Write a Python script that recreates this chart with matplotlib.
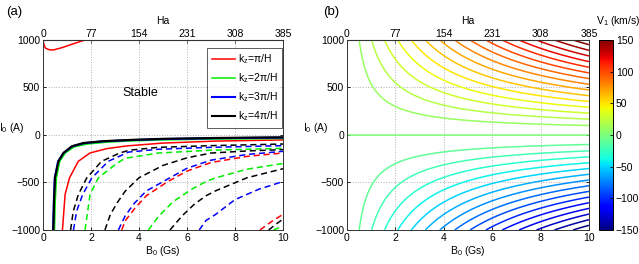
import numpy as np
import matplotlib
matplotlib.use('Agg')
import matplotlib.pyplot as plt

plt.rcParams['font.family'] = ['Liberation Sans', 'DejaVu Sans']
plt.rcParams['font.size'] = 7.5
plt.rcParams['mathtext.fontset'] = 'custom'
plt.rcParams['mathtext.rm'] = 'Liberation Sans'
plt.rcParams['mathtext.it'] = 'Liberation Sans'

# ---- panel (a): marginal stability curves, (B0 [Gs], I0 [A])
red_top_B = [0, 0.03, 0.1, 0.25, 0.43, 0.8, 1.2, 1.75]
red_top_I = [1000, 960, 915, 898, 895, 920, 955, 1000]

black_s_B = [0.43, 0.46, 0.5, 0.64, 0.85, 1.2, 1.68, 2.5, 3.6, 5, 7.2, 10]
black_s_I = [-1000, -700, -450, -277, -189, -119, -84, -65, -52, -40, -31, -24]
blue_s_B = [0.42, 0.45, 0.49, 0.63, 0.86, 1.22, 1.72, 2.5, 3.6, 5, 7.2, 10]
blue_s_I = [-1000, -700, -450, -277, -189, -119, -86, -67, -54, -43, -34, -27]
green_s_B = [0.48, 0.51, 0.56, 0.7, 0.93, 1.3, 1.85, 2.7, 3.6, 5, 7.2, 10]
green_s_I = [-1000, -700, -450, -277, -189, -125, -95, -75, -63, -52, -43, -37]
red_s_B = [0.81, 0.92, 1.1, 1.47, 1.96, 2.65, 3.49, 5, 7.2, 10]
red_s_I = [-1000, -628, -453, -277, -189, -144, -115, -85, -64, -52]

black_d1_B = [1.15, 1.26, 1.47, 1.82, 2.44, 3.2, 3.6, 4.8, 7.0, 10]
black_d1_I = [-1000, -803, -628, -453, -277, -189, -160, -130, -112, -95]
blue_d1_B = [1.27, 1.4, 1.65, 2.03, 2.72, 3.56, 4.8, 7.0, 10]
blue_d1_I = [-1000, -803, -628, -453, -277, -180, -150, -130, -112]
green_d1_B = [1.75, 1.96, 2.3, 3.07, 3.42, 4.8, 7.0, 10]
green_d1_I = [-1000, -628, -453, -300, -245, -190, -160, -140]

black_d2_B = [2.58, 2.8, 3.1, 3.42, 4.0, 5.0, 6.0, 7.0, 8.5, 10]
black_d2_I = [-1000, -840, -710, -593, -450, -320, -240, -190, -168, -154]
blue_d2_B = [3.14, 3.42, 3.8, 4.3, 5.15, 6.0, 7.0, 8.5, 10]
blue_d2_I = [-1000, -853, -720, -590, -470, -350, -265, -205, -172]
red_d2_B = [3.28, 3.42, 3.8, 4.3, 5.2, 6.0, 7.0, 8.5, 10]
red_d2_I = [-1000, -905, -780, -640, -490, -380, -290, -225, -189]
green_d2_B = [4.39, 4.8, 5.43, 6.2, 6.79, 7.17, 8.5, 10]
green_d2_I = [-1000, -860, -700, -570, -490, -453, -360, -300]
black_d3_B = [5.29, 5.8, 6.3, 6.79, 7.17, 8.5, 10]
black_d3_I = [-1000, -850, -730, -640, -590, -450, -355]
blue_d3_B = [6.51, 6.79, 7.17, 8.0, 9.0, 10]
blue_d3_I = [-1000, -900, -840, -680, -570, -490]
red_d3_B = [9.04, 9.5, 10]
red_d3_I = [-1000, -915, -835]
black_d4_B = [9.4, 9.7, 10]
black_d4_I = [-1000, -940, -885]
green_d3_B = [9.6, 9.8, 10]
green_d3_I = [-1000, -980, -960]

legend_labels = [r'k$_z$=π/H', r'k$_z$=2π/H', r'k$_z$=3π/H', r'k$_z$=4π/H']

# ---- panel (b): V1 contours (km/s), levels every 10 km/s
v_levels = np.arange(-150, 151, 10)
# shape constants of the V1(B0, I0) surface, fitted by eye to the contour lines
v_gain, b_sat, i_knee = 0.02154, 0.0273, 69.0
ha_ticks = [0, 77, 154, 231, 308, 385]
ha_per_gauss = 38.5

fig = plt.figure(figsize=(6.39, 2.64), dpi=100)
ax1 = fig.add_axes([0.0673, 0.1288, 0.3756, 0.7197])
ax2 = fig.add_axes([0.543, 0.1288, 0.3787, 0.7197])
cax = fig.add_axes([0.9374, 0.1288, 0.0219, 0.7197])


def style_axes(ax):
    ax.set_xlim(0, 10)
    ax.set_ylim(-1000, 1000)
    ax.set_xticks([0, 2, 4, 6, 8, 10])
    ax.set_yticks([-1000, -500, 0, 500, 1000])
    ax.tick_params(direction='in', length=2.5, width=0.6, right=True, pad=2)
    ax.grid(True, linestyle=':', color='#b0b0b0', linewidth=0.7)
    for s in ax.spines.values():
        s.set_linewidth(0.7)
        s.set_color('#333333')
    ax.set_xlabel(r'B$_0$ (Gs)', labelpad=1)
    ax.set_ylabel(r'I$_0$ (A)', rotation=0, labelpad=0)
    ax.yaxis.set_label_coords(-0.13, 0.5)
    top = ax.secondary_xaxis('top', functions=(lambda b: b * ha_per_gauss, lambda h: h / ha_per_gauss))
    top.set_xticks(ha_ticks)
    top.tick_params(direction='in', length=2.5, width=0.6, pad=1)
    top.set_xlabel('Ha', labelpad=3)


style_axes(ax1)
lw = 1.1
ax1.plot(red_top_B, red_top_I, color='red', lw=lw)
ax1.plot(red_s_B, red_s_I, color='red', lw=lw, label=legend_labels[0])
ax1.plot(green_s_B, green_s_I, color='#00ee00', lw=lw, label=legend_labels[1])
ax1.plot(blue_s_B, blue_s_I, color='blue', lw=lw + 0.4, label=legend_labels[2])
ax1.plot(black_s_B, black_s_I, color='black', lw=lw + 0.4, label=legend_labels[3])

dash = (0, (4, 2.5))
for bb, ii, c in [(black_d1_B, black_d1_I, 'black'), (blue_d1_B, blue_d1_I, 'blue'),
                  (green_d1_B, green_d1_I, '#00ee00'), (black_d2_B, black_d2_I, 'black'),
                  (blue_d2_B, blue_d2_I, 'blue'), (red_d2_B, red_d2_I, 'red'),
                  (green_d2_B, green_d2_I, '#00ee00'), (black_d3_B, black_d3_I, 'black'),
                  (blue_d3_B, blue_d3_I, 'blue'), (red_d3_B, red_d3_I, 'red'),
                  (black_d4_B, black_d4_I, 'black'), (green_d3_B, green_d3_I, '#00ee00')]:
    ax1.plot(bb, ii, color=c, lw=lw, linestyle=dash)

leg = ax1.legend(loc='upper right', bbox_to_anchor=(0.996, 0.958), borderaxespad=0, frameon=True,
                 fancybox=False, edgecolor='#333333', handlelength=2.2, handletextpad=0.3,
                 borderpad=0.45, labelspacing=0.5, fontsize=7.5)
leg.get_frame().set_linewidth(0.7)
ax1.text(4.05, 445, 'Stable', ha='center', va='center', fontsize=9)

style_axes(ax2)
B = np.linspace(0.01, 10, 600)
I = np.linspace(-1000, 1000, 800)
BB, II = np.meshgrid(B, I)
V = v_gain * BB / (1 + b_sat * BB) * II * np.abs(II) / (np.abs(II) + i_knee)
cs = ax2.contour(BB, II, V, levels=v_levels, cmap='jet', vmin=-150, vmax=150, linewidths=1.1)

sm = matplotlib.cm.ScalarMappable(norm=matplotlib.colors.Normalize(-150, 150), cmap='jet')
cb = fig.colorbar(sm, cax=cax, ticks=[-150, -100, -50, 0, 50, 100, 150])
cb.ax.tick_params(direction='in', length=2.5, width=0.6, labelsize=7.5, pad=2)
cb.outline.set_linewidth(0.7)
fig.text(618 / 639, 1 - 21 / 264, r'V$_1$ (km/s)', fontsize=7.5, ha='center', va='center')

fig.text(6 / 639, 1 - 12 / 264, '(a)', fontsize=9.5, va='center')
fig.text(323 / 639, 1 - 12 / 264, '(b)', fontsize=9.5, va='center')

fig.savefig('out.png', dpi=100)
